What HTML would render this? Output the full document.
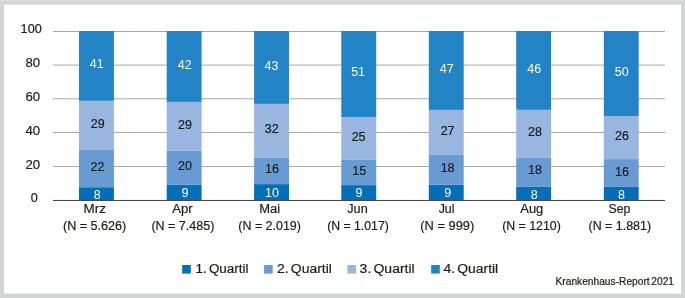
<!DOCTYPE html>
<html lang="de"><head><meta charset="utf-8"><title>Krankenhaus-Report 2021</title>
<style>
html,body{margin:0;padding:0;background:#d3d4d6;}
svg{display:block;}
text{font-family:"Liberation Sans",sans-serif;fill:#1d1d1b;stroke:#1d1d1b;stroke-width:0.2px;}
.t{font-size:12.5px;}
.w{fill:#ffffff;stroke:none;}
.lg{word-spacing:-1.5px;}
.s{font-size:10.2px;word-spacing:-1.2px;}
</style></head><body>
<svg width="685" height="298" viewBox="0 0 685 298">
<rect x="0" y="0" width="685" height="298" fill="#d3d4d6"/>
<rect x="0" y="0" width="685" height="1" fill="#dbdcdd"/>
<rect x="4.1" y="4.6" width="677.05" height="289.05" fill="#ffffff"/>
<rect x="53" y="31.00" width="612" height="1" fill="#a9a9a9"/>
<rect x="53" y="64.60" width="612" height="1" fill="#a9a9a9"/>
<rect x="53" y="98.30" width="612" height="1" fill="#a9a9a9"/>
<rect x="53" y="132.00" width="612" height="1" fill="#a9a9a9"/>
<rect x="53" y="166.00" width="612" height="1" fill="#a9a9a9"/>
<rect x="79.0" y="187.20" width="34.9" height="12.80" fill="#046fb9"/>
<rect x="79.0" y="149.90" width="34.9" height="37.30" fill="#699bd3"/>
<rect x="79.0" y="100.80" width="34.9" height="49.10" fill="#98b6df"/>
<rect x="79.0" y="31.00" width="34.9" height="69.80" fill="#2283c5"/>
<rect x="166.7" y="184.50" width="34.9" height="15.50" fill="#046fb9"/>
<rect x="166.7" y="150.90" width="34.9" height="33.60" fill="#699bd3"/>
<rect x="166.7" y="101.90" width="34.9" height="49.00" fill="#98b6df"/>
<rect x="166.7" y="31.00" width="34.9" height="70.90" fill="#2283c5"/>
<rect x="254.1" y="184.10" width="34.9" height="15.90" fill="#046fb9"/>
<rect x="254.1" y="157.80" width="34.9" height="26.30" fill="#699bd3"/>
<rect x="254.1" y="103.90" width="34.9" height="53.90" fill="#98b6df"/>
<rect x="254.1" y="31.00" width="34.9" height="72.90" fill="#2283c5"/>
<rect x="341.3" y="185.10" width="34.9" height="14.90" fill="#046fb9"/>
<rect x="341.3" y="159.90" width="34.9" height="25.20" fill="#699bd3"/>
<rect x="341.3" y="117.00" width="34.9" height="42.90" fill="#98b6df"/>
<rect x="341.3" y="31.00" width="34.9" height="86.00" fill="#2283c5"/>
<rect x="428.8" y="184.80" width="34.9" height="15.20" fill="#046fb9"/>
<rect x="428.8" y="155.00" width="34.9" height="29.80" fill="#699bd3"/>
<rect x="428.8" y="109.90" width="34.9" height="45.10" fill="#98b6df"/>
<rect x="428.8" y="31.00" width="34.9" height="78.90" fill="#2283c5"/>
<rect x="516.2" y="186.90" width="34.9" height="13.10" fill="#046fb9"/>
<rect x="516.2" y="157.40" width="34.9" height="29.50" fill="#699bd3"/>
<rect x="516.2" y="109.80" width="34.9" height="47.60" fill="#98b6df"/>
<rect x="516.2" y="31.00" width="34.9" height="78.80" fill="#2283c5"/>
<rect x="603.8" y="186.90" width="34.9" height="13.10" fill="#046fb9"/>
<rect x="603.8" y="159.10" width="34.9" height="27.80" fill="#699bd3"/>
<rect x="603.8" y="116.10" width="34.9" height="43.00" fill="#98b6df"/>
<rect x="603.8" y="31.00" width="34.9" height="85.10" fill="#2283c5"/>
<rect x="53" y="199.95" width="612" height="1" fill="#3f3d3d"/>
<text x="41.8" y="33.00" text-anchor="end" class="t" textLength="21.2" lengthAdjust="spacingAndGlyphs">100</text>
<text x="40.1" y="66.70" text-anchor="end" class="t" textLength="14.7" lengthAdjust="spacingAndGlyphs">80</text>
<text x="40.1" y="101.30" text-anchor="end" class="t" textLength="14.7" lengthAdjust="spacingAndGlyphs">60</text>
<text x="40.1" y="134.70" text-anchor="end" class="t" textLength="14.7" lengthAdjust="spacingAndGlyphs">40</text>
<text x="40.1" y="168.90" text-anchor="end" class="t" textLength="14.7" lengthAdjust="spacingAndGlyphs">20</text>
<text x="37.8" y="201.80" text-anchor="end" class="t" textLength="7.0" lengthAdjust="spacingAndGlyphs">0</text>
<text x="97.30" y="198.50" text-anchor="middle" class="t w">8</text>
<text x="97.50" y="170.80" text-anchor="middle" class="t">22</text>
<text x="97.80" y="127.90" text-anchor="middle" class="t">29</text>
<text x="96.80" y="68.20" text-anchor="middle" class="t w">41</text>
<text x="94.80" y="213.1" text-anchor="middle" class="t" textLength="22.4" lengthAdjust="spacingAndGlyphs">Mrz</text>
<text x="94.60" y="230.3" text-anchor="middle" class="t" textLength="63.3" lengthAdjust="spacingAndGlyphs">(N = 5.626)</text>
<text x="184.90" y="196.50" text-anchor="middle" class="t w">9</text>
<text x="184.90" y="169.80" text-anchor="middle" class="t">20</text>
<text x="184.90" y="128.90" text-anchor="middle" class="t">29</text>
<text x="184.70" y="69.20" text-anchor="middle" class="t w">42</text>
<text x="182.50" y="213.1" text-anchor="middle" class="t" textLength="20.4" lengthAdjust="spacingAndGlyphs">Apr</text>
<text x="182.90" y="230.3" text-anchor="middle" class="t" textLength="63.0" lengthAdjust="spacingAndGlyphs">(N = 7.485)</text>
<text x="272.00" y="196.80" text-anchor="middle" class="t w">10</text>
<text x="272.00" y="173.10" text-anchor="middle" class="t">16</text>
<text x="271.80" y="133.00" text-anchor="middle" class="t">32</text>
<text x="271.50" y="70.10" text-anchor="middle" class="t w">43</text>
<text x="269.60" y="213.1" text-anchor="middle" class="t" textLength="20.9" lengthAdjust="spacingAndGlyphs">Mai</text>
<text x="269.60" y="230.3" text-anchor="middle" class="t" textLength="62.6" lengthAdjust="spacingAndGlyphs">(N = 2.019)</text>
<text x="359.10" y="196.80" text-anchor="middle" class="t w">9</text>
<text x="359.20" y="175.10" text-anchor="middle" class="t">15</text>
<text x="358.60" y="141.00" text-anchor="middle" class="t">25</text>
<text x="358.10" y="76.40" text-anchor="middle" class="t w">51</text>
<text x="357.50" y="213.1" text-anchor="middle" class="t" textLength="20.4" lengthAdjust="spacingAndGlyphs">Jun</text>
<text x="358.00" y="230.3" text-anchor="middle" class="t" textLength="61.6" lengthAdjust="spacingAndGlyphs">(N = 1.017)</text>
<text x="447.70" y="196.50" text-anchor="middle" class="t w">9</text>
<text x="447.60" y="171.80" text-anchor="middle" class="t">18</text>
<text x="447.60" y="135.00" text-anchor="middle" class="t">27</text>
<text x="446.70" y="72.90" text-anchor="middle" class="t w">47</text>
<text x="446.60" y="213.1" text-anchor="middle" class="t" textLength="15.9" lengthAdjust="spacingAndGlyphs">Jul</text>
<text x="447.30" y="230.3" text-anchor="middle" class="t" textLength="54.0" lengthAdjust="spacingAndGlyphs">(N = 999)</text>
<text x="534.20" y="198.50" text-anchor="middle" class="t w">8</text>
<text x="535.00" y="174.40" text-anchor="middle" class="t">18</text>
<text x="535.00" y="136.20" text-anchor="middle" class="t">28</text>
<text x="534.20" y="72.60" text-anchor="middle" class="t w">46</text>
<text x="531.80" y="213.1" text-anchor="middle" class="t" textLength="23.0" lengthAdjust="spacingAndGlyphs">Aug</text>
<text x="531.50" y="230.3" text-anchor="middle" class="t" textLength="58.6" lengthAdjust="spacingAndGlyphs">(N = 1210)</text>
<text x="621.60" y="198.50" text-anchor="middle" class="t w">8</text>
<text x="621.90" y="175.60" text-anchor="middle" class="t">16</text>
<text x="621.90" y="140.00" text-anchor="middle" class="t">26</text>
<text x="621.80" y="75.90" text-anchor="middle" class="t w">50</text>
<text x="619.50" y="213.1" text-anchor="middle" class="t" textLength="22.0" lengthAdjust="spacingAndGlyphs">Sep</text>
<text x="619.80" y="230.3" text-anchor="middle" class="t" textLength="62.6" lengthAdjust="spacingAndGlyphs">(N = 1.881)</text>
<rect x="182.2" y="265" width="8.6" height="8.6" fill="#046fb9"/>
<text x="195.5" y="273.4" class="t lg" textLength="53.1" lengthAdjust="spacingAndGlyphs">1. Quartil</text>
<rect x="264.1" y="265" width="8.6" height="8.6" fill="#699bd3"/>
<text x="277.0" y="273.4" class="t lg" textLength="54.9" lengthAdjust="spacingAndGlyphs">2. Quartil</text>
<rect x="347.4" y="265" width="8.6" height="8.6" fill="#98b6df"/>
<text x="359.6" y="273.4" class="t lg" textLength="55.1" lengthAdjust="spacingAndGlyphs">3. Quartil</text>
<rect x="431.2" y="265" width="8.6" height="8.6" fill="#2283c5"/>
<text x="443.5" y="273.4" class="t lg" textLength="54.7" lengthAdjust="spacingAndGlyphs">4. Quartil</text>
<text x="674.0" y="284.9" text-anchor="end" class="s" textLength="118.5" lengthAdjust="spacingAndGlyphs">Krankenhaus-Report 2021</text>
</svg>
</body></html>
